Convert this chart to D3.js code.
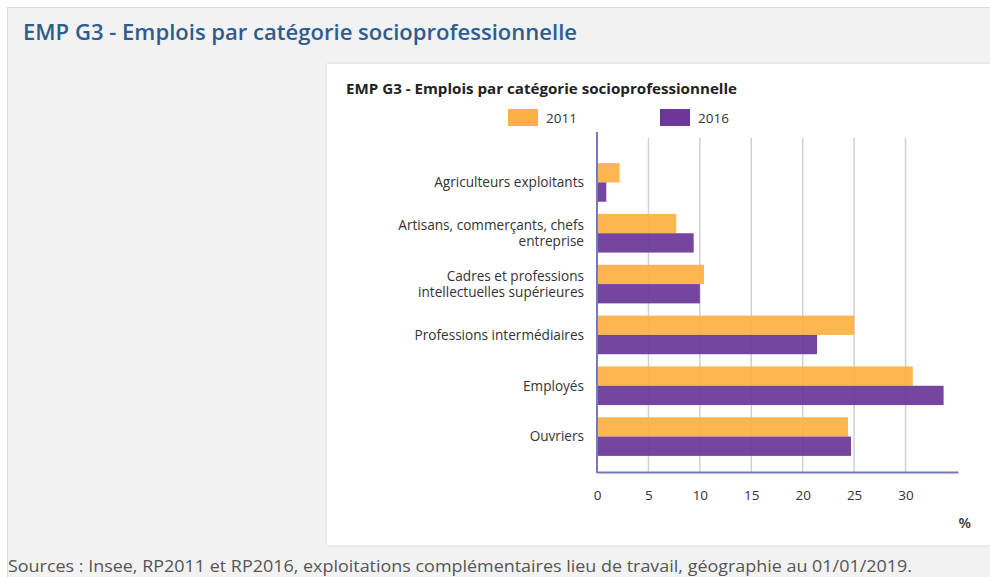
<!DOCTYPE html>
<html>
<head>
<meta charset="utf-8">
<script src="https://cdn.jsdelivr.net/npm/d3@7"></script>
<style>
  html, body { margin: 0; padding: 0; background: #ffffff; }
  svg { display: block; font-family: "Open Sans", sans-serif; }
</style>
</head>
<body>
<svg id="chart" width="990" height="577"></svg>
<script>
// Categories (top to bottom) and shares of jobs in %
const categories = [
  ["Agriculteurs exploitants"],
  ["Artisans, commerçants, chefs", "entreprise"],
  ["Cadres et professions", "intellectuelles supérieures"],
  ["Professions intermédiaires"],
  ["Employés"],
  ["Ouvriers"]
];
const years = ["2011", "2016"];
const values2011 = [2.2, 7.7, 10.4, 25.0, 30.7, 24.4];
const values2016 = [0.9, 9.4, 10.0, 21.4, 33.7, 24.7];
const tickValues = [0, 5, 10, 15, 20, 25, 30];

const pageTitle = "EMP G3 - Emplois par catégorie socioprofessionnelle";
const chartTitle = "EMP G3 - Emplois par catégorie socioprofessionnelle";
const sourceText = "Sources : Insee, RP2011 et RP2016, exploitations complémentaires lieu de travail, géographie au 01/01/2019.";

const colors = { "2011": "#fdb043", "2016": "#6c3799" };

const svg = d3.select("#chart");

// Page frame
svg.append("rect").attr("x", 7.5).attr("y", 7.5).attr("width", 990).attr("height", 600)
  .attr("fill", "#f2f2f2").attr("stroke", "#dedede");

svg.append("text").attr("x", 23).attr("y", 40)
  .attr("fill", "#2e5c8f").attr("font-size", 22).attr("font-weight", 600)
  .attr("textLength", 554).attr("lengthAdjust", "spacingAndGlyphs")
  .text(pageTitle);

// White chart panel with a faint shadow
const defs = svg.append("defs");
const f = defs.append("filter").attr("id", "shadow").attr("x", "-5%").attr("y", "-5%").attr("width", "110%").attr("height", "110%");
f.append("feDropShadow").attr("dx", 0).attr("dy", 0).attr("stdDeviation", 1.5).attr("flood-color", "#000").attr("flood-opacity", 0.12);
svg.append("rect").attr("x", 327).attr("y", 64).attr("width", 680).attr("height", 481)
  .attr("fill", "#ffffff").attr("filter", "url(#shadow)");

svg.append("text").attr("x", 8).attr("y", 572)
  .attr("fill", "#555").attr("font-size", 15.5)
  .attr("textLength", 904).attr("lengthAdjust", "spacingAndGlyphs")
  .text(sourceText);

// Chart
svg.append("text").attr("x", 346).attr("y", 94)
  .attr("fill", "#222").attr("font-size", 14.5).attr("font-weight", 700)
  .attr("textLength", 391).attr("lengthAdjust", "spacingAndGlyphs")
  .text(chartTitle);

// Legend
const legendX = [508, 660];
years.forEach((yr, i) => {
  svg.append("rect").attr("x", legendX[i]).attr("y", 109).attr("width", 30).attr("height", 17)
    .attr("fill", colors[yr]);
  svg.append("text").attr("x", legendX[i] + 38).attr("y", 123)
    .attr("fill", "#333").attr("font-size", 13.5).text(yr);
});

const x = d3.scaleLinear().domain([0, 35.1]).range([597, 958]);
const y = d3.scaleBand().domain(d3.range(categories.length)).range([157, 462])
  .paddingInner(0.24).paddingOuter(0.12);
const sub = d3.scaleBand().domain(years).range([0, y.bandwidth()]);

// Vertical gridlines
svg.append("g").selectAll("line").data(tickValues.slice(1)).join("line")
  .attr("x1", d => x(d)).attr("x2", d => x(d))
  .attr("y1", 138).attr("y2", 472)
  .attr("stroke", "#d0d0d0").attr("stroke-width", 1.5);

// Bars
const series = { "2011": values2011, "2016": values2016 };
years.forEach(yr => {
  svg.append("g").selectAll("rect").data(series[yr]).join("rect")
    .attr("x", x(0))
    .attr("y", (d, i) => y(i) + sub(yr))
    .attr("width", d => x(d) - x(0))
    .attr("height", sub.bandwidth())
    .attr("fill", colors[yr]).attr("fill-opacity", 0.93);
});

// Axes
const xAxis = d3.axisBottom(x).tickValues(tickValues).tickSize(0).tickPadding(18);
const gx = svg.append("g").attr("transform", "translate(0,472)").call(xAxis);
gx.select(".domain").attr("stroke", "#7777c4").attr("stroke-width", 2);
gx.selectAll("text").attr("font-size", 13.5).attr("fill", "#333").attr("font-family", "Open Sans, sans-serif");

svg.append("line").attr("x1", x(0)).attr("x2", x(0)).attr("y1", 132).attr("y2", 473)
  .attr("stroke", "#7777c4").attr("stroke-width", 2);

svg.append("text").attr("x", 971).attr("y", 528).attr("text-anchor", "end")
  .attr("fill", "#333").attr("font-size", 14.5).attr("font-weight", 600).text("%");

// Category labels
const lab = svg.append("g").selectAll("text").data(categories).join("text")
  .attr("text-anchor", "end").attr("fill", "#333").attr("font-size", 13.6)
  .attr("transform", (d, i) => `translate(584,${y(i) + y.bandwidth() / 2})`);
lab.each(function(lines) {
  const t = d3.select(this);
  const lh = 15.5;
  lines.forEach((ln, j) => {
    t.append("tspan").attr("x", 0)
      .attr("y", (j - (lines.length - 1) / 2) * lh)
      .attr("dy", "0.35em").text(ln);
  });
});
</script>
</body>
</html>
